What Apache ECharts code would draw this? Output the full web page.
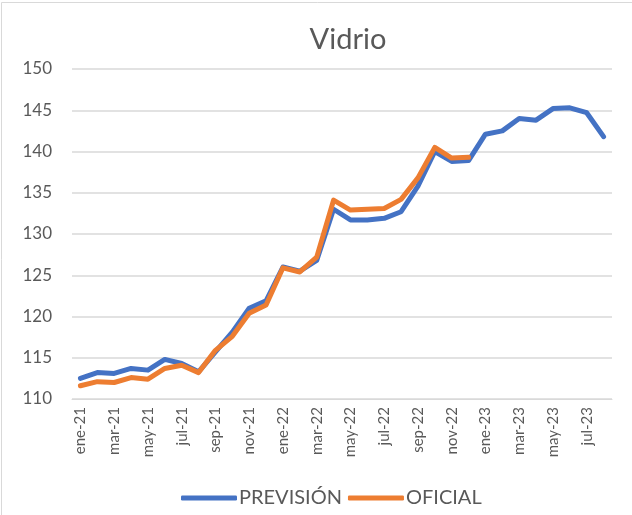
<!DOCTYPE html>
<html>
<head>
<meta charset="utf-8">
<script src="https://cdn.jsdelivr.net/npm/echarts@6/dist/echarts.min.js"></script>
<style>
    html, body { margin: 0; padding: 0; background: #fff; }
    #chart { width: 632px; height: 515px; }
</style>
</head>
<body>
<div id="chart"></div>
<script>
    // meses ene-21 .. ago-23
    const months = ['ene-21','feb-21','mar-21','abr-21','may-21','jun-21','jul-21','ago-21','sep-21','oct-21','nov-21','dic-21',
                    'ene-22','feb-22','mar-22','abr-22','may-22','jun-22','jul-22','ago-22','sep-22','oct-22','nov-22','dic-22',
                    'ene-23','feb-23','mar-23','abr-23','may-23','jun-23','jul-23','ago-23']
    const prevision = [112.5, 113.2, 113.1, 113.7, 113.5, 114.8, 114.3, 113.3, 115.7, 118.1, 121.0, 121.9,
                       126.0, 125.5, 126.8, 133.0, 131.7, 131.7, 131.9, 132.7, 135.8, 140.0, 138.8, 138.9,
                       142.1, 142.5, 144.0, 143.8, 145.2, 145.3, 144.7, 141.8]
    const oficial = [111.6, 112.1, 112.0, 112.6, 112.4, 113.7, 114.1, 113.2, 115.9, 117.6, 120.4, 121.4,
                     125.9, 125.4, 127.2, 134.1, 132.9, 133.0, 133.1, 134.2, 136.8, 140.5, 139.2, 139.3]
    const yTicks = {min: 110, max: 150, step: 5}

    const font = 'Lato, "Open Sans", sans-serif'
    const grey = '#595959'

    let myChart = echarts.init(document.getElementById('chart'))
    myChart.setOption({
        animation: false,
        textStyle: {fontFamily: font},
        title: {
            text: 'Vidrio',
            left: 343,
            textAlign: 'center',
            top: 20,
            textStyle: {fontSize: 29, fontWeight: 'normal', color: grey, fontFamily: font}
        },
        graphic: [{
            type: 'rect',
            shape: {x: 1.5, y: 2.5, width: 640, height: 520},
            style: {fill: 'none', stroke: '#d9d9d9', lineWidth: 1}
        }],
        legend: {
            bottom: 2,
            left: 176,
            itemWidth: 56,
            itemHeight: 5,
            itemGap: 6,
            icon: 'roundRect',
            textStyle: {fontSize: 20, color: grey, fontFamily: font, padding: [0, 0, 0, -3]},
            data: ['PREVISIÓN', 'OFICIAL']
        },
        grid: {
            left: 72,
            right: 20,
            top: 69,
            bottom: 116
        },
        xAxis: {
            type: 'category',
            data: months,
            boundaryGap: true,
            axisLine: {lineStyle: {color: '#d9d9d9', width: 1}},
            axisTick: {interval: 1, length: 5, lineStyle: {color: '#d9d9d9'}},
            axisLabel: {interval: 1, rotate: 90, fontSize: 15, color: grey, margin: 8, fontFamily: font}
        },
        yAxis: {
            type: 'value',
            min: yTicks.min,
            max: yTicks.max,
            interval: yTicks.step,
            axisLine: {show: false},
            axisTick: {show: false},
            axisLabel: {fontSize: 17, color: grey, margin: 20, fontFamily: font},
            splitLine: {lineStyle: {color: '#d9d9d9', width: 1.5}}
        },
        series: [
            {
                name: 'PREVISIÓN',
                type: 'line',
                data: prevision,
                showSymbol: false,
                symbol: 'none',
                color: '#4472C4',
                lineStyle: {width: 5, cap: 'round', join: 'round'}
            },
            {
                name: 'OFICIAL',
                type: 'line',
                data: oficial,
                showSymbol: false,
                symbol: 'none',
                color: '#ED7D31',
                lineStyle: {width: 5, cap: 'round', join: 'round'}
            }
        ]
    })
</script>
</body>
</html>
